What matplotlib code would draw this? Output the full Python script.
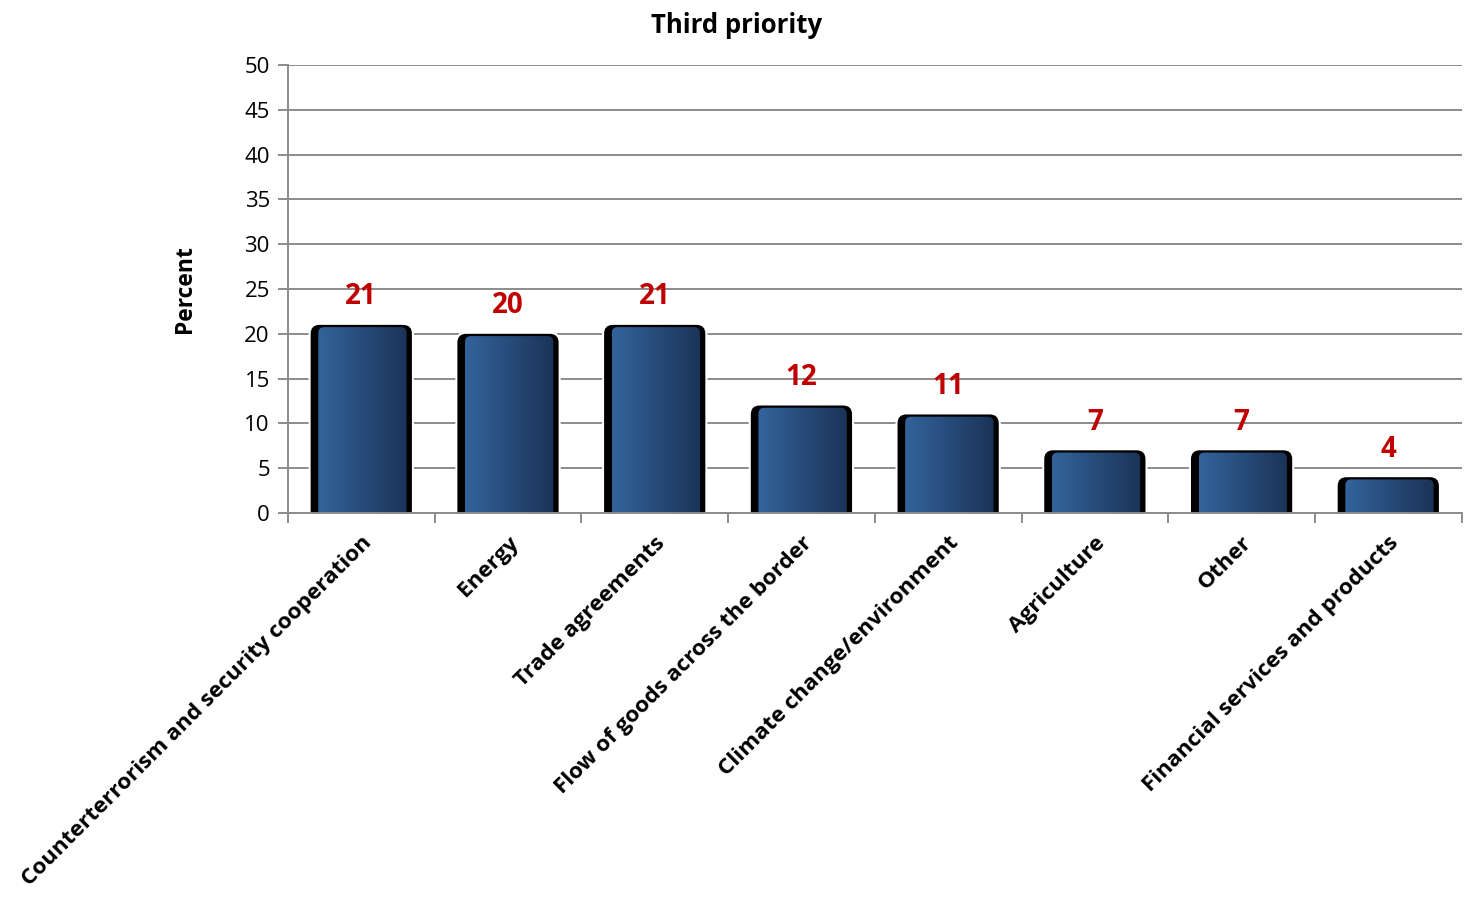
import numpy as np
import matplotlib.pyplot as plt
from matplotlib.patches import FancyBboxPatch
from matplotlib.colors import LinearSegmentedColormap

plt.rcParams['font.family'] = ['Open Sans', 'DejaVu Sans']

categories = ["Counterterrorism and security cooperation", "Energy", "Trade agreements",
              "Flow of goods across the border", "Climate change/environment",
              "Agriculture", "Other", "Financial services and products"]
values = [21, 20, 21, 12, 11, 7, 7, 4]
yticks = [0, 5, 10, 15, 20, 25, 30, 35, 40, 45, 50]


def main():
    fig = plt.figure(figsize=(14.69, 8.98), dpi=100)
    ax = fig.add_axes([0.196, 0.4287, 0.799, 0.4989])
    n = len(categories)
    ax.set_xlim(-0.5, n - 0.5)
    ax.set_ylim(0, 50)

    # px -> data conversion for rounded corners
    aspect = (50 / 448) / (n / 1174)
    cmap = LinearSegmentedColormap.from_list("bar", ["#33649c", "#1b3357"])
    grad = np.linspace(0, 1, 256).reshape(1, -1)

    half = 0.345
    for i, v in enumerate(values):
        # white halo breaks the gridlines around the bar
        halo = FancyBboxPatch((i - half, -1), 2 * half, v + 1,
                              boxstyle="round,pad=0,rounding_size=0.06",
                              mutation_aspect=aspect, facecolor="white",
                              edgecolor="white", linewidth=3, zorder=2)
        ax.add_patch(halo)
        # black shadow body
        shadow = FancyBboxPatch((i - half, -1), 2 * half, v + 1,
                                boxstyle="round,pad=0,rounding_size=0.06",
                                mutation_aspect=aspect, facecolor="black",
                                edgecolor="none", zorder=2.5)
        ax.add_patch(shadow)
        # gradient face
        x0, x1 = i - half + 0.052, i + half - 0.036
        top = v - 0.25
        face = FancyBboxPatch((x0, -1), x1 - x0, top + 1,
                              boxstyle="round,pad=0,rounding_size=0.04",
                              mutation_aspect=aspect, facecolor="none",
                              edgecolor="none", zorder=3)
        ax.add_patch(face)
        im = ax.imshow(grad, cmap=cmap, aspect="auto", extent=(x0, x1, -1, top),
                       zorder=3, interpolation="bilinear")
        im.set_clip_path(face)
        ax.text(i, v + 1.5, str(v), ha="center", va="bottom", color="#c00000",
                fontsize=20, fontweight="bold", zorder=4)

    ax.set_xlim(-0.5, n - 0.5)
    ax.set_ylim(0, 50)

    ax.set_yticks(yticks)
    ax.set_yticklabels([str(t) for t in yticks], fontsize=16)
    ax.yaxis.grid(True, color="#8c8c8c", linewidth=1.4)
    ax.set_axisbelow(True)

    ax.set_xticks(np.arange(n))
    ax.set_xticklabels(categories, rotation=45, ha="right", va="top",
                       rotation_mode="anchor", fontsize=16.2, fontweight="bold")
    ax.tick_params(axis="x", length=0, pad=14)
    ax.set_xticks(np.arange(-0.5, n), minor=True)
    ax.tick_params(axis="x", which="minor", length=7, color="#8c8c8c", width=1.4)
    ax.tick_params(axis="y", length=7, color="#8c8c8c", width=1.4, pad=6)

    for side in ["top", "right"]:
        ax.spines[side].set_visible(False)
    for side in ["left", "bottom"]:
        ax.spines[side].set_color("#8c8c8c")
        ax.spines[side].set_linewidth(1.4)
        ax.spines[side].set_zorder(5)

    ax.set_ylabel("Percent", fontsize=16.5, fontweight="bold", labelpad=34)
    fig.text(0.5015, 0.972, "Third priority", ha="center", va="center",
             fontsize=18.5, fontweight="bold")

    fig.savefig("out.png", dpi=100)


if __name__ == '__main__':
    main()
